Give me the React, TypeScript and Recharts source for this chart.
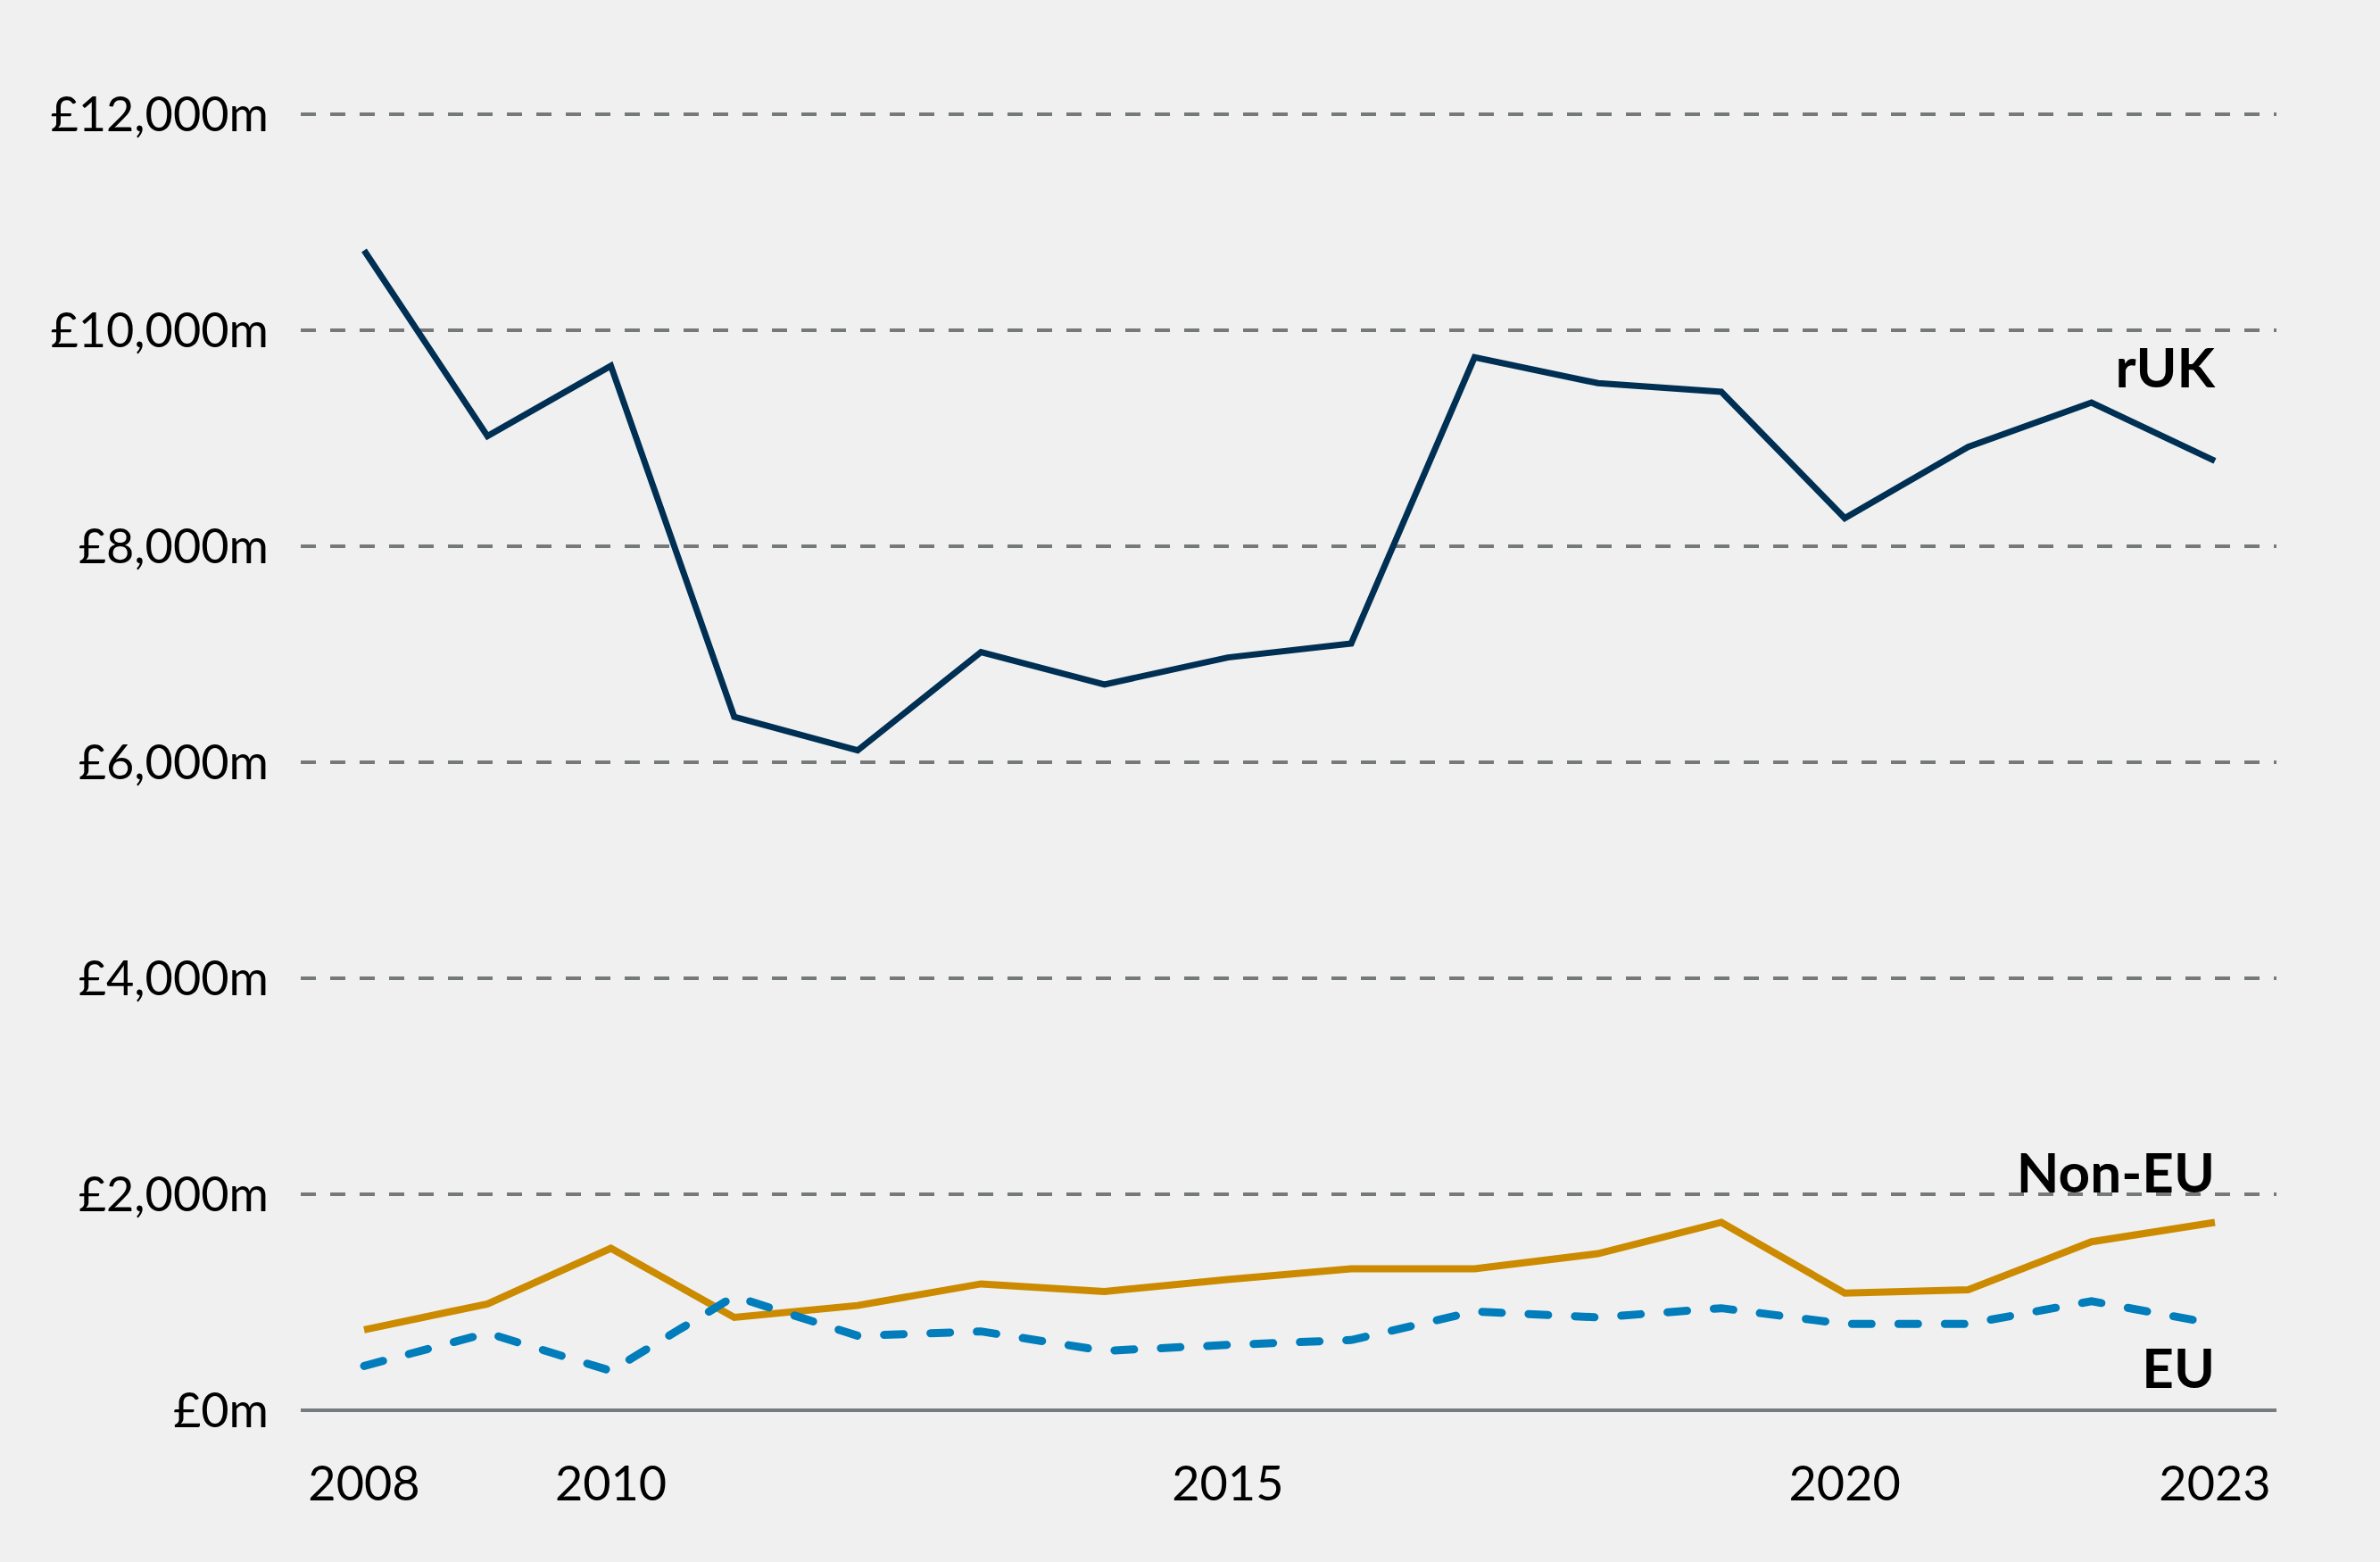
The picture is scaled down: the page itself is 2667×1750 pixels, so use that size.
import { LineChart, Line, XAxis, YAxis, CartesianGrid, ReferenceDot, Label } from 'recharts'

const years = [2008, 2009, 2010, 2011, 2012, 2013, 2014, 2015, 2016, 2017, 2018, 2019, 2020, 2021, 2022, 2023]
const ruk = [10740, 9020, 9670, 6420, 6110, 7020, 6720, 6970, 7100, 9750, 9510, 9430, 8260, 8920, 9330, 8790]
const nonEu = [745, 985, 1500, 860, 970, 1170, 1100, 1210, 1310, 1310, 1450, 1740, 1085, 1115, 1560, 1740]
const eu = [410, 715, 365, 1055, 690, 730, 550, 605, 650, 915, 860, 945, 800, 800, 1010, 800]

const yTicks = [0, 2000, 4000, 6000, 8000, 10000, 12000]
const xTicks = [2008, 2010, 2015, 2020, 2023]

const seriesLabels = [
  { text: 'rUK', value: 9670 },
  { text: 'Non-EU', value: 2215 },
  { text: 'EU', value: 405 },
]

const data = years.map((year, i) => ({ year, ruk: ruk[i], nonEu: nonEu[i], eu: eu[i] }))

const font = 'Lato, "Noto Sans", sans-serif'

const fmt = (v: number) => `£${v.toLocaleString('en-GB')}m`

function endLabel(text: string) {
  return (props: any) => {
    const { viewBox } = props
    return (
      <text
        x={viewBox.x}
        y={viewBox.y}
        textAnchor='end'
        dominantBaseline='central'
        fontFamily={font}
        fontWeight={700}
        fontSize={62}
        fill='#000'
      >
        {text}
      </text>
    )
  }
}

export default function App() {
  return (
    <div style={{ position: 'absolute', left: 0, top: 0, width: 2667, height: 1750, background: '#eff0ef' }}>
      <LineChart width={2667} height={1750} data={data} margin={{ top: 128, right: 116, left: 0, bottom: 0 }}>
        <CartesianGrid vertical={false} stroke='#76797a' strokeWidth={4} strokeDasharray='17 16' />
        <XAxis
          dataKey='year'
          type='number'
          domain={[2008, 2023]}
          ticks={xTicks}
          padding={{ left: 71, right: 69 }}
          height={170}
          tickLine={false}
          tickMargin={57}
          axisLine={{ stroke: '#767b7d', strokeWidth: 4 }}
          tick={{ fill: '#000', fontSize: 54, fontFamily: font }}
        />
        <YAxis
          domain={[0, 12000]}
          ticks={yTicks}
          width={337}
          tickLine={false}
          axisLine={false}
          tickMargin={30}
          tickFormatter={fmt}
          tick={{ fill: '#000', fontSize: 54, fontFamily: font }}
        />
        <Line dataKey='ruk' stroke='#002f54' strokeWidth={7} dot={false} isAnimationActive={false} />
        <Line dataKey='nonEu' stroke='#cc8a00' strokeWidth={8} dot={false} isAnimationActive={false} />
        <Line
          dataKey='eu'
          stroke='#007dba'
          strokeWidth={9}
          strokeDasharray='22 30'
          strokeLinecap='round'
          dot={false}
          isAnimationActive={false}
        />
        {seriesLabels.map((s) => (
          <ReferenceDot key={s.text} x={2023} y={s.value} r={0} stroke='none' fill='none' ifOverflow='visible'>
            <Label content={endLabel(s.text)} />
          </ReferenceDot>
        ))}
      </LineChart>
    </div>
  )
}
